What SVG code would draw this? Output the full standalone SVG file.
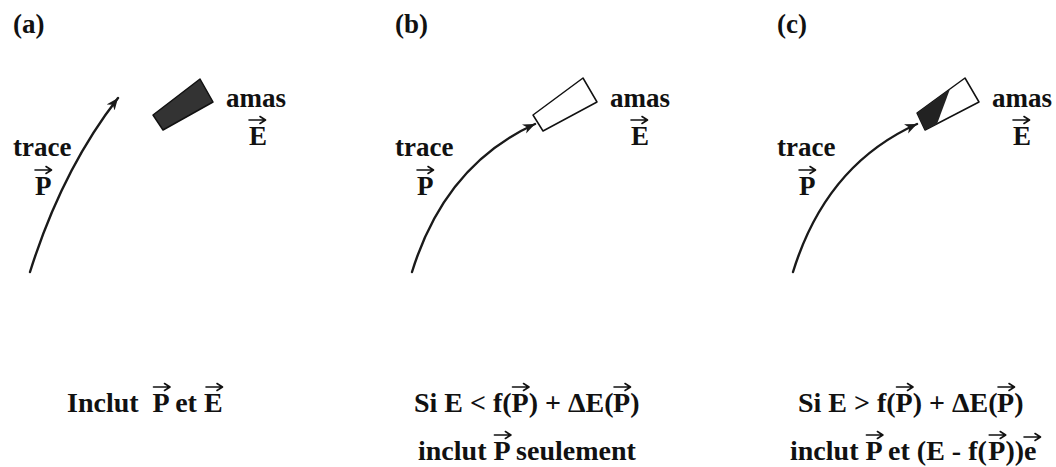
<svg xmlns="http://www.w3.org/2000/svg" xmlns:xlink="http://www.w3.org/1999/xlink" width="1056" height="467" viewBox="0 0 1056 467">
<style>
text{font-family:'Liberation Serif','Times New Roman','DejaVu Serif',serif;font-weight:700;fill:#111}
.lbl{font-size:27px}
.eq{font-size:28px}
.trk{fill:none;stroke:#1a1a1a;stroke-width:2.4;stroke-linecap:round}
.vec{fill:none;stroke:#111;stroke-width:1.6;stroke-linecap:round;stroke-linejoin:round}
.clu{stroke:#111;stroke-width:1.5;stroke-linejoin:round}
</style>
<defs>
<marker id="ah" markerUnits="userSpaceOnUse" markerWidth="14" markerHeight="12" refX="12" refY="5" orient="auto">
<path d="M0,0 L12,5 L0,10 L3.5,5 z" fill="#1a1a1a"/>
</marker>
<path id="vec" class="vec" d="M0,0 H16 M11,-3.5 L16.5,0 L11,3.5"/>
</defs>
<rect width="1056" height="467" fill="#fff"/>

<g id="panel-a" font-family="Liberation Serif, serif">
<text class="lbl" x="13" y="33">(a)</text>
<g id="a-trace"><text class="lbl" x="13" y="156">trace</text><text class="lbl" x="35" y="195">P</text><use href="#vec" x="35" y="170"/></g>
<g id="a-amas"><polygon class="clu" points="153,115 200,79 213,102 163,130" fill="#333"/><text class="lbl" x="226" y="107">amas</text><text class="lbl" x="249" y="145">E</text><use href="#vec" x="249" y="120"/></g>
<g id="a-text"><text class="eq" x="67" y="412">Inclut<tspan x="152.6">P</tspan> et E</text><use href="#vec" x="153.5" y="387"/><use href="#vec" x="206" y="387"/></g>
</g>

<g id="panel-b">
<text class="lbl" x="395" y="33">(b)</text>
<g id="b-trace"><text class="lbl" x="395" y="156">trace</text><text class="lbl" x="417" y="195">P</text><use href="#vec" x="417" y="170"/></g>
<g id="b-amas"><polygon class="clu" points="533,115 583,78 597,102 543,131" fill="#fff"/><text class="lbl" x="610" y="107">amas</text><text class="lbl" x="631" y="145">E</text><use href="#vec" x="631" y="120"/></g>
<g id="b-text"><text class="eq" x="414" y="412">Si E &lt; f(<tspan x="511.6">P</tspan>) + ΔE(<tspan x="613.1">P</tspan>)</text><use href="#vec" x="512.5" y="387"/><use href="#vec" x="614" y="387"/>
<text class="eq" x="418" y="460">inclut <tspan x="493.5">P</tspan> seulement</text><use href="#vec" x="494.4" y="435"/></g>
</g>

<g id="panel-c">
<text class="lbl" x="777" y="33">(c)</text>
<g id="c-trace"><text class="lbl" x="777" y="156">trace</text><text class="lbl" x="799" y="195">P</text><use href="#vec" x="799" y="170"/></g>
<g id="c-amas"><polygon class="clu" points="917,113 965,78 979,102 925,130" fill="#fff"/><polygon points="917,113 950,89 937,124 925,130" fill="#222"/><text class="lbl" x="992" y="107">amas</text><text class="lbl" x="1013" y="145">E</text><use href="#vec" x="1013" y="120"/></g>
<g id="c-text"><text class="eq" x="798" y="412">Si E &gt; f(<tspan x="895.6">P</tspan>) + ΔE(<tspan x="997.1">P</tspan>)</text><use href="#vec" x="896.5" y="387"/><use href="#vec" x="998" y="387"/>
<text class="eq" x="790" y="460">inclut <tspan x="865.5">P</tspan> et (E - f(<tspan x="988.3">P</tspan>))<tspan x="1024">e</tspan></text><use href="#vec" x="866.4" y="435"/><use href="#vec" x="989.2" y="435"/><use href="#vec" x="1024" y="437"/></g>
</g>

<g id="connectors">
<path class="trk" d="M30,272 Q62,170 118,98" marker-end="url(#ah)"/>
<path class="trk" d="M412,272 Q445,165 535,124" marker-end="url(#ah)"/>
<path class="trk" d="M793,272 Q826,165 917,124" marker-end="url(#ah)"/>
</g>
</svg>
